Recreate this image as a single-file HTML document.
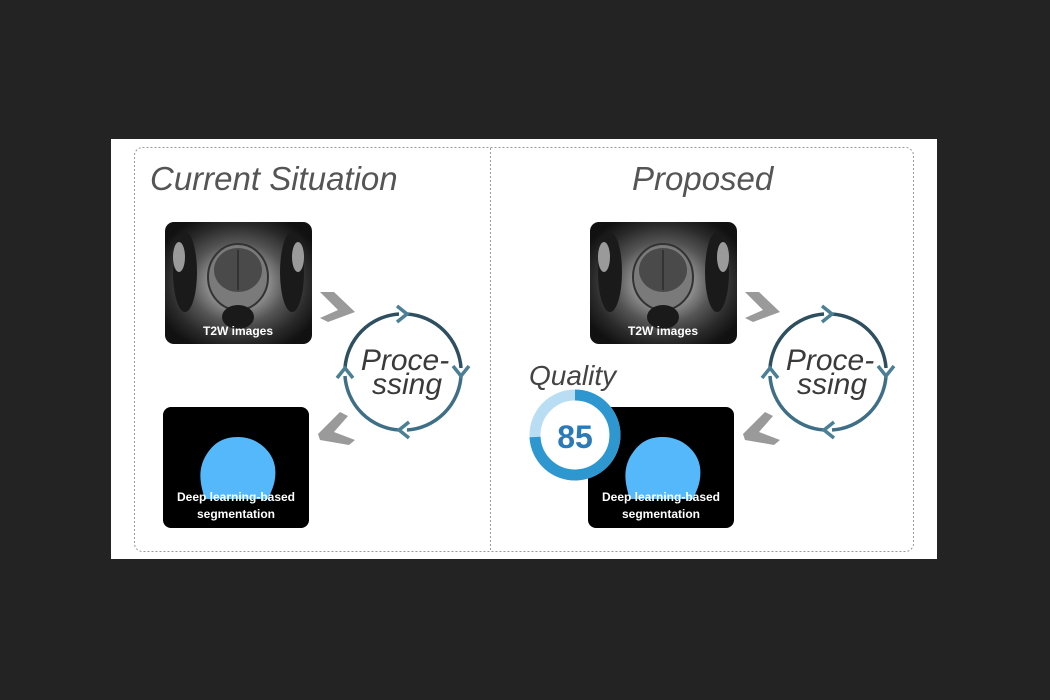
<!DOCTYPE html>
<html><head><meta charset="utf-8"><style>
html,body{margin:0;padding:0;background:#232323;width:1050px;height:700px;overflow:hidden}
svg{display:block}
</style></head><body>
<svg width="1050" height="700" viewBox="0 0 1050 700" xmlns="http://www.w3.org/2000/svg">
<defs>
<radialGradient id="mri" cx="0.5" cy="0.5" r="0.6">
<stop offset="0" stop-color="#6a6a6a"/><stop offset="0.35" stop-color="#8a8a8a"/><stop offset="0.55" stop-color="#555"/><stop offset="0.8" stop-color="#2a2a2a"/><stop offset="1" stop-color="#111"/>
</radialGradient>
<g id="mriimg">
<rect x="0" y="0" width="147" height="122" rx="9" fill="url(#mri)"/>
<ellipse cx="20" cy="50" rx="12" ry="40" fill="#1a1a1a"/>
<ellipse cx="127" cy="50" rx="12" ry="40" fill="#1a1a1a"/>
<ellipse cx="14" cy="35" rx="6" ry="15" fill="#9a9a9a"/>
<ellipse cx="133" cy="35" rx="6" ry="15" fill="#9a9a9a"/>
<ellipse cx="73" cy="55" rx="30" ry="33" fill="#7a7a7a" stroke="#333" stroke-width="2"/>
<ellipse cx="73" cy="48" rx="24" ry="22" fill="#4a4a4a"/>
<line x1="73" y1="28" x2="73" y2="68" stroke="#333" stroke-width="2"/>
<ellipse cx="73" cy="95" rx="16" ry="12" fill="#1a1a1a"/>
<text x="73" y="113" text-anchor="middle" font-family="Liberation Sans, sans-serif" font-weight="bold" font-size="12" fill="#fff">T2W images</text>
</g>
<g id="segimg">
<rect x="0" y="0" width="146" height="121" rx="8" fill="#000"/>
<path d="M75 30 C95 30 110 45 112 60 C114 75 108 85 105 92 L42 92 C38 80 34 65 42 50 C50 36 60 30 75 30Z" fill="#55b8fa"/>
<text x="73" y="94" text-anchor="middle" font-family="Liberation Sans, sans-serif" font-weight="bold" font-size="12" fill="#fff">Deep learning-based</text>
<text x="73" y="111" text-anchor="middle" font-family="Liberation Sans, sans-serif" font-weight="bold" font-size="12" fill="#fff">segmentation</text>
</g>
<g id="proc" fill="none" stroke="#3f6f86" stroke-width="3.5">
<path d="M4 -58 A58 58 0 0 1 58 -4" stroke="#2d4f60"/>
<path d="M58 4 A58 58 0 0 1 4 58"/>
<path d="M-4 58 A58 58 0 0 1 -58 4"/>
<path d="M-58 -4 A58 58 0 0 1 -4 -58" stroke="#2d4f60"/>
<polyline points="-6,-66 4,-58 -6,-50" stroke="#4a7f96"/>
<polyline points="66,-6 58,4 50,-6" stroke="#4a7f96"/>
<polyline points="6,66 -4,58 6,50" stroke="#4a7f96"/>
<polyline points="-66,6 -58,-4 -50,6" stroke="#4a7f96"/>
<text x="2" y="-2" text-anchor="middle" font-family="Liberation Sans, sans-serif" font-style="italic" font-size="30" fill="#3a3a3a" stroke="none">Proce-</text>
<text x="4" y="22" text-anchor="middle" font-family="Liberation Sans, sans-serif" font-style="italic" font-size="30" fill="#3a3a3a" stroke="none">ssing</text>
</g>
<polygon id="chevR" points="0,0 14,0 35,20 8,30 0,26 18,18" fill="#9a9a9a"/>
<polygon id="chevL" points="22,0 30,4 16,20 37,28 31,33 2,28 0,22" fill="#9a9a9a"/>
</defs>
<rect x="111" y="139" width="826" height="420" fill="#fff"/>
<rect x="134.5" y="147.5" width="779" height="404" rx="8" fill="none" stroke="#999" stroke-dasharray="2,2"/>
<line x1="490.5" y1="148" x2="490.5" y2="551" stroke="#999" stroke-dasharray="2,2"/>
<text x="150" y="190" font-family="Liberation Sans, sans-serif" font-style="italic" font-size="33" fill="#555">Current Situation</text>
<text x="632" y="190" font-family="Liberation Sans, sans-serif" font-style="italic" font-size="33" fill="#555">Proposed</text>
<use href="#mriimg" x="165" y="222"/>
<use href="#segimg" x="163" y="407"/>
<use href="#proc" x="403" y="372"/>
<use href="#chevR" x="320" y="292"/>
<use href="#chevL" x="318" y="412"/>
<use href="#mriimg" x="590" y="222"/>
<use href="#segimg" x="588" y="407"/>
<use href="#proc" x="828" y="372"/>
<use href="#chevR" x="745" y="292"/>
<use href="#chevL" x="743" y="412"/>
<text x="529" y="385" font-family="Liberation Sans, sans-serif" font-style="italic" font-size="28" fill="#444">Quality</text>
<circle cx="575" cy="435" r="40" fill="#fff" stroke="#b9def3" stroke-width="11"/>
<path d="M575 395 A40 40 0 1 1 535 437" fill="none" stroke="#2f97d0" stroke-width="11"/>
<text x="575" y="448" text-anchor="middle" font-family="Liberation Sans, sans-serif" font-weight="bold" font-size="32" fill="#2a7ab8">85</text>
</svg>
</body></html>
